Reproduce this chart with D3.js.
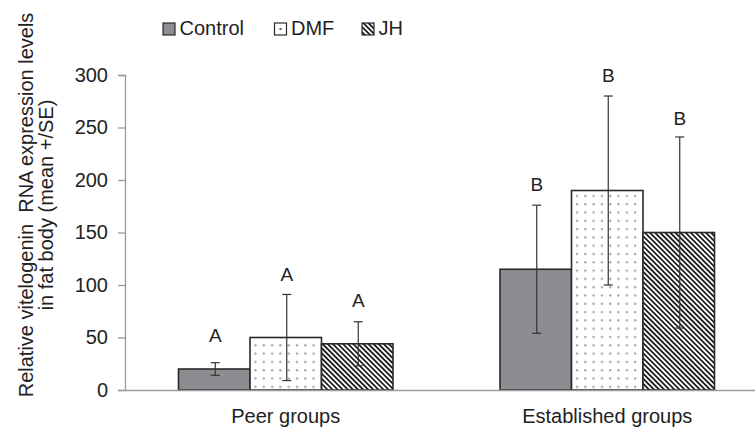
<!DOCTYPE html>
<html>
<head>
<meta charset="utf-8">
<script src="https://cdn.jsdelivr.net/npm/d3@7"></script>
<style>
  body { margin: 0; background: #fff; }
  svg { display: block; font-family: "Liberation Sans", Arial, Helvetica, sans-serif; }
</style>
</head>
<body>
<svg id="chart" width="755" height="428"></svg>
<script>
// ---- data ----
const groups = ["Peer groups", "Established groups"];
const seriesNames = ["Control", "DMF", "JH"];
const peerMeans = [20, 50, 44];
const peerSE = [6, 41, 21];
const establishedMeans = [115, 190, 150];
const establishedSE = [61, 90, 91];
const peerLetters = ["A", "A", "A"];
const establishedLetters = ["B", "B", "B"];
const peerLetterY = [46, 104, 79];
const establishedLetterY = [190, 293, 252];
const yTicks = [0, 50, 100, 150, 200, 250, 300];
const yTitleLines = ["Relative vitelogenin  RNA expression levels", "in fat body (mean +/SE)"];

const rows = [];
[[peerMeans, peerSE, peerLetters, peerLetterY], [establishedMeans, establishedSE, establishedLetters, establishedLetterY]]
  .forEach((g, gi) => {
    seriesNames.forEach((s, si) => {
      rows.push({ group: groups[gi], series: s, mean: g[0][si], se: g[1][si], letter: g[2][si], letterY: g[3][si] });
    });
  });

// ---- layout ----
const svg = d3.select("#chart");
const mLeft = 125, mTop = 75, mBottom = 390, mRight = 768;

const y = d3.scaleLinear().domain([0, 300]).range([mBottom, mTop]);
const x0 = d3.scaleBand().domain(groups).range([mLeft, mRight]).padding(0);
const x1 = d3.scaleBand().domain(seriesNames).range([53.5, x0.bandwidth() - 53.5]).padding(0);

// ---- patterns ----
const defs = svg.append("defs");
const dots = defs.append("pattern").attr("id", "dots").attr("patternUnits", "userSpaceOnUse")
  .attr("width", 8.3).attr("height", 8.3).attr("x", 3).attr("y", 2);
dots.append("rect").attr("width", 8.3).attr("height", 8.3).attr("fill", "#fff");
dots.append("rect").attr("x", 2).attr("y", 2).attr("width", 2).attr("height", 2).attr("fill", "#999");

const hatch = defs.append("pattern").attr("id", "hatch").attr("patternUnits", "userSpaceOnUse")
  .attr("width", 3.6).attr("height", 3.6).attr("patternTransform", "rotate(-45)");
hatch.append("rect").attr("width", 3.6).attr("height", 3.6).attr("fill", "#fff");
hatch.append("line").attr("x1", 0.9).attr("y1", 0).attr("x2", 0.9).attr("y2", 3.6)
  .attr("stroke", "#111").attr("stroke-width", 1.7);

const fills = { "Control": "#8c8d90", "DMF": "url(#dots)", "JH": "url(#hatch)" };

// ---- axes ----
const yAxis = svg.append("g").attr("transform", `translate(${mLeft},0)`)
  .call(d3.axisLeft(y).tickValues(yTicks).tickSize(7).tickPadding(10));
yAxis.select(".domain").attr("stroke", "#9a9a9a").attr("stroke-width", 1.3);
yAxis.selectAll(".tick line").attr("stroke", "#9a9a9a").attr("stroke-width", 1.3);
yAxis.selectAll(".tick text").attr("font-size", 20).attr("fill", "#222")
  .attr("font-family", "Liberation Sans, Arial, sans-serif");

// bars
const gGroups = svg.append("g").selectAll("g").data(groups).join("g")
  .attr("transform", d => `translate(${x0(d)},0)`);

gGroups.selectAll("rect.bar").data(g => rows.filter(r => r.group === g)).join("rect")
  .attr("class", "bar")
  .attr("x", d => x1(d.series))
  .attr("y", d => y(d.mean))
  .attr("width", x1.bandwidth())
  .attr("height", d => y(0) - y(d.mean))
  .attr("fill", d => fills[d.series])
  .attr("stroke", "#2a2a2a").attr("stroke-width", 1.6);

// error bars
const eb = gGroups.selectAll("g.eb").data(g => rows.filter(r => r.group === g)).join("g").attr("class", "eb")
  .attr("transform", d => `translate(${x1(d.series) + x1.bandwidth() / 2 + 1},0)`);
eb.append("line").attr("x1", 0).attr("x2", 0)
  .attr("y1", d => y(d.mean + d.se)).attr("y2", d => y(d.mean - d.se))
  .attr("stroke", "#333").attr("stroke-width", 1.2);
eb.append("line").attr("x1", -4.5).attr("x2", 4.5)
  .attr("y1", d => y(d.mean + d.se)).attr("y2", d => y(d.mean + d.se))
  .attr("stroke", "#333").attr("stroke-width", 1.2);
eb.append("line").attr("x1", -4.5).attr("x2", 4.5)
  .attr("y1", d => y(d.mean - d.se)).attr("y2", d => y(d.mean - d.se))
  .attr("stroke", "#333").attr("stroke-width", 1.2);
eb.append("text").attr("x", 0).attr("y", d => y(d.letterY))
  .attr("text-anchor", "middle").attr("font-size", 19).attr("fill", "#222")
  .text(d => d.letter);

// x axis
const xAxis = svg.append("g").attr("transform", `translate(0,${mBottom})`)
  .call(d3.axisBottom(x0).tickSize(0).tickPadding(19));
xAxis.select(".domain").attr("stroke", "#9a9a9a").attr("stroke-width", 1.5);
xAxis.selectAll(".tick text").attr("font-size", 20).attr("fill", "#222")
  .attr("font-family", "Liberation Sans, Arial, sans-serif");

// y title
const yt = svg.append("text").attr("transform", "rotate(-90)")
  .attr("text-anchor", "middle").attr("font-size", 20).attr("fill", "#222");
yTitleLines.forEach((t, i) => {
  yt.append("tspan").attr("x", -205).attr("y", 33 + i * 20).style("white-space", "pre").text(t);
});

// legend
const legendX = [163, 274.5, 362];
const lg = svg.append("g").selectAll("g").data(seriesNames).join("g")
  .attr("transform", (d, i) => `translate(${legendX[i]},23)`);
lg.append("rect").attr("width", 12).attr("height", 12)
  .attr("fill", d => d === "DMF" ? "#fff" : fills[d])
  .attr("stroke", "#2a2a2a").attr("stroke-width", 1.2);
lg.filter(d => d === "DMF").append("rect").attr("x", 5).attr("y", 5).attr("width", 2).attr("height", 2).attr("fill", "#555");
lg.append("text").attr("x", 16.5).attr("y", 12).attr("font-size", 20).attr("fill", "#222").text(d => d);
</script>
</body>
</html>
